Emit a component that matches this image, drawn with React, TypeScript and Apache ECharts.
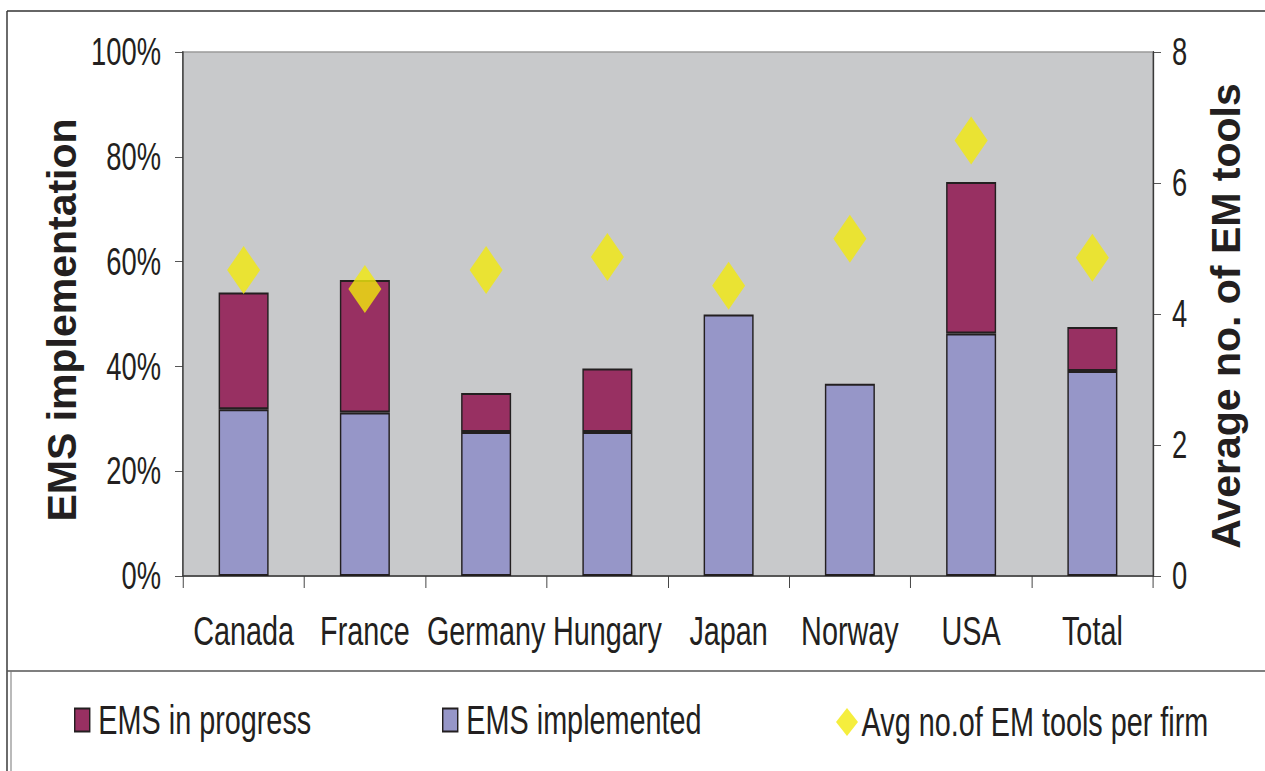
import React, { useEffect, useRef } from "react";
import * as echarts from "echarts";

const categories = ["Canada", "France", "Germany", "Hungary", "Japan", "Norway", "USA", "Total"];
const emsImplemented = [31.8, 31.2, 27.5, 27.5, 49.9, 36.7, 46.3, 39.1];
const emsInProgress = [22.3, 25.3, 7.4, 12.1, null, null, 28.9, 8.4];
const avgTools = [4.67, 4.38, 4.67, 4.87, 4.43, 5.15, 6.65, 4.86];
const leftTicks = { min: 0, max: 100, interval: 20 };
const rightTicks = { min: 0, max: 8, interval: 2 };

// the reference is drawn with horizontally condensed lettering; the chart is laid out
// on a wider canvas and condensed with a CSS scaleX so text keeps that look
const S = 0.72;
const W = 1265;
const H = 771;
const u = (px: number) => px / S;

const FONT = "'Liberation Sans', Arial, Helvetica, sans-serif";
const PURPLE = "#983062";
const LAVENDER = "#9696C8";
const YELLOW = "#F2EA0C";
const EDGE = "#231F20";
const INK = "#231F20";

export default function App() {
  const ref = useRef<HTMLDivElement>(null);
  useEffect(() => {
    if (!ref.current) return;
    const chart = echarts.init(ref.current, null, { renderer: "svg" });
    const legendText = { fontFamily: FONT, fontSize: 40, color: INK, lineHeight: 42 };
    chart.setOption({
      animation: false,
      backgroundColor: "#ffffff",
      grid: {
        left: u(183),
        top: 52,
        width: u(970),
        height: 524,
        show: true,
        backgroundColor: "#C8C9CB",
        borderColor: "#9A9A9A",
        borderWidth: 1.5,
        containLabel: false,
      },
      legend: [
        {
          data: ["EMS in progress"],
          left: u(74),
          top: 699,
          padding: 0,
          icon: "rect",
          itemWidth: u(15),
          itemHeight: 23,
          itemStyle: { borderColor: EDGE, borderWidth: 2 },
          textStyle: { ...legendText, padding: [0, 0, 0, 7] },
        },
        {
          data: ["EMS implemented"],
          left: u(442),
          top: 699,
          padding: 0,
          icon: "rect",
          itemWidth: u(15),
          itemHeight: 23,
          itemStyle: { borderColor: EDGE, borderWidth: 2 },
          textStyle: { ...legendText, padding: [0, 0, 0, 7] },
        },
        {
          data: ["Avg no.of EM tools per firm"],
          left: u(836),
          top: 701,
          padding: 0,
          icon: "diamond",
          itemWidth: u(22),
          itemHeight: 28,
          textStyle: { ...legendText },
        },
      ],
      xAxis: {
        type: "category",
        data: categories,
        axisLine: { lineStyle: { color: "#3a3a3a", width: 1.5 } },
        axisTick: { show: true, length: 12, lineStyle: { color: "#3a3a3a", width: 1.3 } },
        axisLabel: { interval: 0, fontFamily: FONT, fontSize: 40, color: INK, margin: 35 },
      },
      yAxis: [
        {
          type: "value",
          ...leftTicks,
          position: "left",
          axisLine: { show: true, lineStyle: { color: "#3a3a3a", width: 2 } },
          axisTick: { show: true, length: u(8), lineStyle: { color: "#3a3a3a" } },
          splitLine: { show: false },
          axisLabel: {
            formatter: "{value}%",
            fontFamily: FONT,
            fontSize: 38,
            color: INK,
            margin: u(22),
          },
        },
        {
          type: "value",
          ...rightTicks,
          position: "right",
          axisLine: { show: true, lineStyle: { color: "#3a3a3a", width: 2 } },
          axisTick: { show: true, length: u(8), lineStyle: { color: "#3a3a3a" } },
          splitLine: { show: false },
          axisLabel: { fontFamily: FONT, fontSize: 38, color: INK, margin: u(19) },
        },
      ],
      graphic: [
        {
          type: "text",
          x: u(62),
          y: 320,
          rotation: Math.PI / 2,
          scaleY: 1 / S,
          style: {
            text: "EMS implementation",
            font: `bold 41px ${FONT}`,
            fill: INK,
            align: "center",
            verticalAlign: "middle",
          },
        },
        {
          type: "text",
          x: u(1226),
          y: 316,
          rotation: Math.PI / 2,
          scaleY: 1 / S,
          style: {
            text: "Average no. of EM tools",
            font: `bold 41px ${FONT}`,
            fill: INK,
            align: "center",
            verticalAlign: "middle",
          },
        },
        { type: "line", shape: { x1: u(7), y1: 11, x2: u(W), y2: 11 }, style: { stroke: "#333", lineWidth: 1.5 } },
        { type: "line", shape: { x1: u(7), y1: 11, x2: u(7), y2: H }, style: { stroke: "#333", lineWidth: 2 } },
        { type: "line", shape: { x1: u(7), y1: 671, x2: u(W), y2: 671 }, style: { stroke: "#555", lineWidth: 1.5 } },
        { type: "line", shape: { x1: u(11), y1: 671, x2: u(11), y2: H }, style: { stroke: "#777", lineWidth: 1.4 } },
      ],
      series: [
        {
          name: "EMS implemented",
          type: "bar",
          stack: "ems",
          data: emsImplemented,
          barWidth: u(50),
          itemStyle: { color: LAVENDER, borderColor: EDGE, borderWidth: 2 },
        },
        {
          name: "EMS in progress",
          type: "bar",
          stack: "ems",
          data: emsInProgress,
          barWidth: u(50),
          itemStyle: { color: PURPLE, borderColor: EDGE, borderWidth: 2 },
        },
        {
          name: "Avg no.of EM tools per firm",
          type: "scatter",
          yAxisIndex: 1,
          data: avgTools,
          symbol: "diamond",
          symbolSize: [u(33), 48],
          itemStyle: { color: YELLOW },
          z: 5,
        },
      ],
    });
    return () => chart.dispose();
  }, []);
  return (
    <div style={{ position: "absolute", left: 0, top: 0, width: W, height: H, overflow: "hidden", background: "#fff" }}>
      <div
        ref={ref}
        style={{
          width: u(W),
          height: H,
          transform: `scaleX(${S})`,
          transformOrigin: "0 0",
        }}
      />
    </div>
  );
}
